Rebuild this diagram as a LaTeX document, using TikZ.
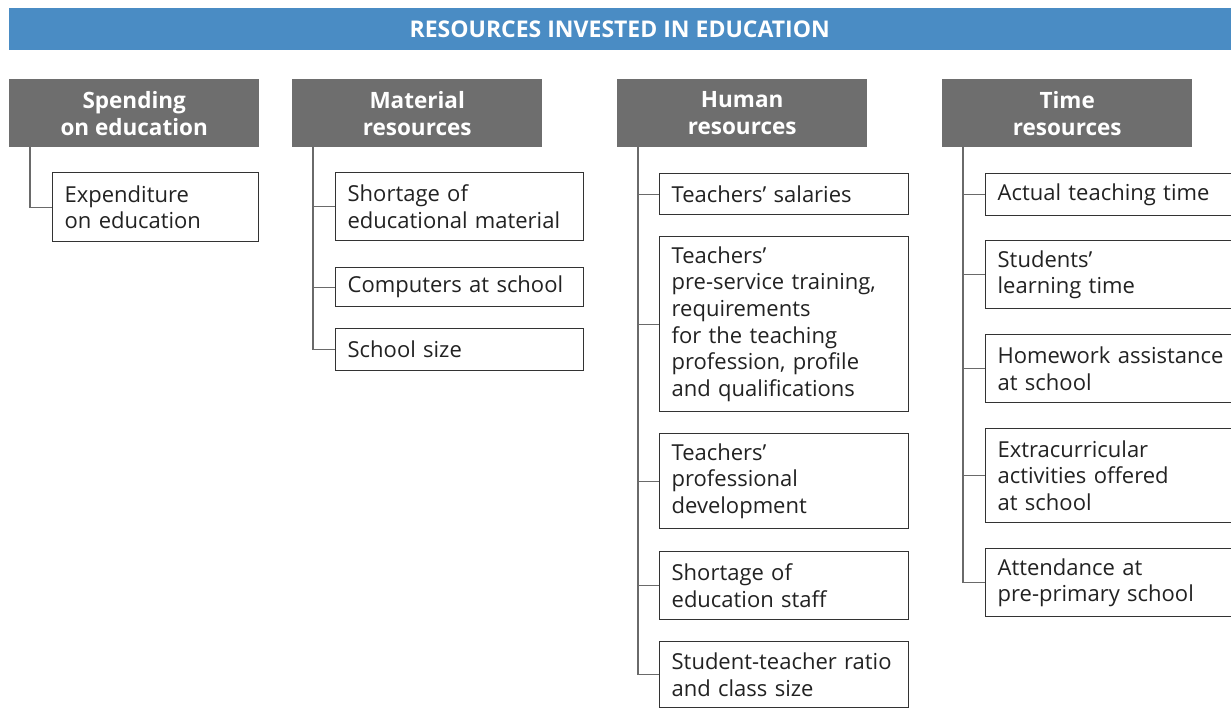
\documentclass[tikz,border=0pt]{standalone}
\usepackage{fontspec}
\setmainfont{Open Sans}
\definecolor{barblue}{HTML}{4A8CC4}
\definecolor{hdrgray}{HTML}{6E6E6E}
\definecolor{linegray}{HTML}{6A6A6A}
\definecolor{boxline}{HTML}{333333}
\definecolor{txt}{HTML}{222222}
\tikzset{
  hdr/.style={fill=hdrgray, text=white, font=\fontsize{22.5}{27}\selectfont\bfseries, align=center,
    minimum width=250pt, minimum height=68pt, anchor=north west, inner sep=0pt},
  itembox/.style={draw=boxline, line width=1.3pt, fill=white, text=txt,
    font=\fontsize{22}{26.6}\selectfont, align=left, anchor=north west,
    inner xsep=12pt, inner ysep=0pt},
  conn/.style={draw=linegray, line width=1.3pt},
}
\begin{document}
\begin{tikzpicture}[x=1pt,y=-1pt]
\useasboundingbox (0,0) rectangle (1231,707);
\clip (0,0) rectangle (1231,707);
% title bar
\node[fill=barblue, text=white, font=\fontsize{23}{26}\selectfont\bfseries, minimum width=1230pt, minimum height=42pt, anchor=north west, inner sep=0pt] (title) at (9,8) {\hspace{-9pt}RESOURCES INVESTED IN EDUCATION};
% headers
\node[hdr] (hs) at (9,79) {Spending\\on education};
\node[hdr] (hm) at (292,79) {Material\\resources};
\node[hdr] (hh) at (617,79) {Human\\resources};
\node[hdr] (ht) at (942,79) {Time\\resources};
% spending
\node[itembox, text width=182pt, minimum height=69pt] (s1) at (52,172) {Expenditure\\on education};
% material
\node[itembox, text width=224pt, minimum height=68pt] (m1) at (335,172) {Shortage of\\educational material};
\node[itembox, text width=224pt, minimum height=39pt] (m2) at (335,267) {Computers at school};
\node[itembox, text width=224pt, minimum height=42pt] (m3) at (335,328) {School size};
% human
\node[itembox, text width=225pt, minimum height=41pt] (h1) at (659,173) {Teachers’ salaries};
\node[itembox, text width=225pt, minimum height=175pt] (h2) at (659,236) {Teachers’\\pre-service training,\\requirements\\for the teaching\\profession, profile\\and qualifications};
\node[itembox, text width=225pt, minimum height=95pt] (h3) at (659,433) {Teachers’\\professional\\development};
\node[itembox, text width=225pt, minimum height=68pt] (h4) at (659,551) {Shortage of\\education staff};
\node[itembox, text width=225pt, minimum height=66pt] (h5) at (659,641) {Student-teacher ratio\\and class size};
% time
\node[itembox, text width=240pt, minimum height=42pt] (t1) at (985,173) {Actual teaching time};
\node[itembox, text width=240pt, minimum height=68pt] (t2) at (985,240) {Students’\\learning time};
\node[itembox, text width=240pt, minimum height=68pt] (t3) at (985,334) {Homework assistance\\at school};
\node[itembox, text width=240pt, minimum height=94pt] (t4) at (985,428) {Extracurricular\\activities offered\\at school};
\node[itembox, text width=240pt, minimum height=68pt] (t5) at (985,548) {Attendance at\\pre-primary school};
% connectors
\draw[conn] ([xshift=21pt]hs.south west) |- (s1.west);
\draw[conn] ([xshift=21pt]hm.south west) |- (m3.west);
\draw[conn] (m1.west) -- ++(-22,0);
\draw[conn] (m2.west) -- ++(-22,0);
\draw[conn] ([xshift=21pt]hh.south west) |- (h5.west);
\foreach \n in {h1,h2,h3,h4} \draw[conn] (\n.west) -- ++(-21,0);
\draw[conn] ([xshift=21pt]ht.south west) |- (t5.west);
\foreach \n in {t1,t2,t3,t4} \draw[conn] (\n.west) -- ++(-22,0);
\end{tikzpicture}
\end{document}
